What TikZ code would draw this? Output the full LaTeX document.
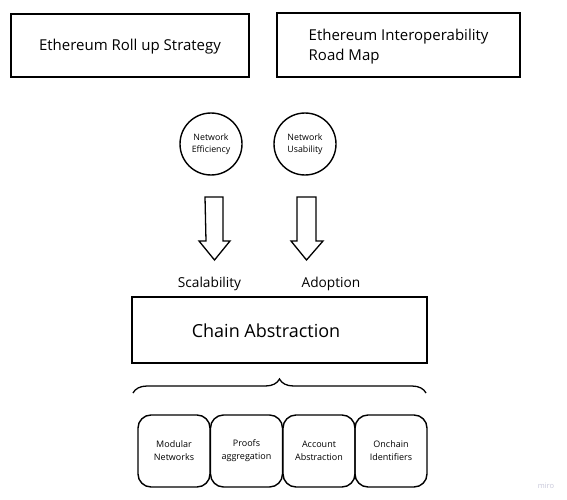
\documentclass[tikz,border=0pt]{standalone}
\usepackage{fontspec}
\setmainfont{Open Sans}
\usetikzlibrary{decorations.pathreplacing}
\begin{document}
\begin{tikzpicture}[x=1pt,y=-1pt,
  line width=1.4pt,
  topbox/.style={draw, minimum width=238pt, minimum height=63pt, inner sep=0pt},
  circ/.style={draw, circle, minimum size=62pt, inner sep=0pt, font=\fontsize{8.8}{12.5}\selectfont, align=center},
  fatarrow/.style={draw, line width=1.3pt, line join=miter},
  lbl/.style={font=\fontsize{13.7}{16}\selectfont},
  rbox/.style={draw, rounded corners=13pt, minimum width=72pt, minimum height=72pt, inner sep=0pt, align=center, font=\fontsize{9}{13}\selectfont}
]
\useasboundingbox (0,0) rectangle (567,500);
\fill[white] (0,0) rectangle (567,500);

\node[topbox] (roll) at (130,45.5) {};
\node[font=\fontsize{15}{20}\selectfont, inner sep=0pt] (rolltext) at (130,46.5) {Ethereum Roll up Strategy};
\node[topbox, minimum width=243pt, minimum height=64pt] (interop) at (398.5,45) {};
\node[anchor=west, align=left, font=\fontsize{15}{20}\selectfont, inner sep=0pt] (interoptext) at (308,46.5) {Ethereum Interoperability\\Road Map};

\node[circ] (eff) at (211,144) {Network\\Efficiency};
\node[circ] (usa) at (305,144) {Network\\Usability};

% fat arrows
\draw[fatarrow] (205,197) -- (223,197) -- (223,241) -- (230,241) -- (214.5,260) -- (199,241) -- (206,241) -- cycle;
\draw[fatarrow] (297,197) -- (316,197) -- (316,241) -- (323,241) -- (306.5,260) -- (291,241) -- (297,241) -- cycle;

\node[lbl] (scal) at (209.5,283.5) {Scalability};
\node[lbl] (adop) at (331,283.5) {Adoption};

\node[draw, minimum width=295pt, minimum height=66pt, inner sep=0pt] (chain) at (279.5,330) {};
\node[font=\fontsize{18}{20}\selectfont, inner sep=0pt] (chaintext) at (266,331) {Chain Abstraction};

\coordinate (bl) at (133,393);
\coordinate (br) at (426,393);
\draw[line width=1.3pt, decorate, decoration={brace, amplitude=14pt}] (bl) -- (br);

\node[rbox] (mod) at (174,451) {Modular\\Networks};
\node[rbox] (proof) at (246.5,451) {Proofs\\aggregation};
\node[rbox] (acct) at (319,451) {Account\\Abstraction};
\node[rbox] (onch) at (391,451) {Onchain\\Identifiers};

\node[text={rgb,255:red,200;green,200;blue,218}, font=\fontsize{7.5}{8}\selectfont] (miro) at (546,486) {miro};
\end{tikzpicture}
\end{document}
